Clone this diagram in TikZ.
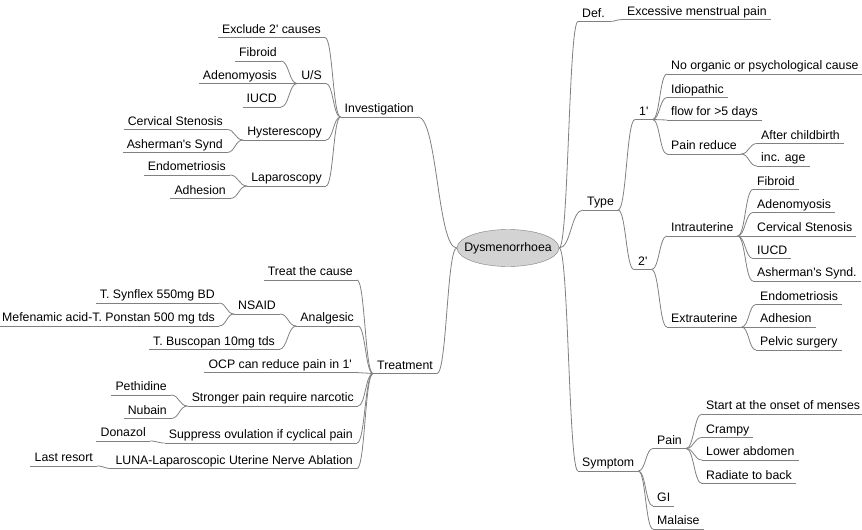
\documentclass[tikz,border=0pt]{standalone}
\usepackage{fontspec}
\setmainfont{Liberation Sans}
\usetikzlibrary{calc,shapes.geometric}
\definecolor{Wire}{HTML}{808080}
\definecolor{HubFill}{HTML}{D3D3D3}
\newcommand\tick{\textquotesingle}
\newcommand\branch[2]{\draw[wire] let \p1=(#1), \p2=(#2) in (\p1) .. controls ({(\x1+\x2)/2},\y1) and ({(\x1+\x2)/2},\y2) .. (\p2);}

\begin{document}
\begin{tikzpicture}[x=1pt,y=-1pt,
  every node/.style={font=\fontsize{12.3}{14}\selectfont},
  wire/.style={draw=Wire,line width=0.8pt},
  hub/.style={ellipse,draw=Wire,fill=HubFill,minimum width=102pt,minimum height=37pt,inner xsep=-10pt,inner ysep=0pt},
  topic/.style={inner xsep=4pt,inner ysep=1.5pt,text height=9pt,text depth=2.5pt,
    append after command={(\tikzlastnode.south west) edge[wire] (\tikzlastnode.south east)}},
  rtopic/.style={topic,anchor=south west},
  ltopic/.style={topic,anchor=south east}
]
\useasboundingbox (0,0) rectangle (862,530);
\node[hub] (ctr) at (508,248) {Dysmenorrhoea};
% right side
\node[rtopic] (def) at (578,21.5) {Def.};
\node[rtopic] (excess) at (623,19.5) {Excessive menstrual pain};
\node[rtopic] (type) at (583,210) {Type};
\node[rtopic] (prim) at (635,119.5) {1\tick};
\node[rtopic] (noorg) at (667,74) {No organic or psychological cause};
\node[rtopic] (idio) at (667,97.5) {Idiopathic};
\node[rtopic] (flow) at (667,120) {flow for >5 days};
\node[rtopic] (painred) at (667,154) {Pain reduce};
\node[rtopic] (afterch) at (757,143.5) {After childbirth};
\node[rtopic] (incage) at (757,166) {inc. age};
\node[rtopic] (sec) at (634,269.5) {2\tick};
\node[rtopic] (intra) at (667,236) {Intrauterine};
\node[rtopic] (fibB) at (753,189.5) {Fibroid};
\node[rtopic] (adenoB) at (753,212.5) {Adenomyosis};
\node[rtopic] (cervB) at (753,236) {Cervical Stenosis};
\node[rtopic] (iucdB) at (753,258.5) {IUCD};
\node[rtopic] (asherB) at (753,281) {Asherman\tick s Synd.};
\node[rtopic] (extra) at (667,327) {Extrauterine};
\node[rtopic] (endoB) at (756,304.5) {Endometriosis};
\node[rtopic] (adhB) at (756,327) {Adhesion};
\node[rtopic] (pelvic) at (756,350) {Pelvic surgery};
\node[rtopic] (symptom) at (578,471) {Symptom};
\node[rtopic] (painS) at (653,448.5) {Pain};
\node[rtopic] (onset) at (702,414) {Start at the onset of menses};
\node[rtopic] (crampy) at (702,437.5) {Crampy};
\node[rtopic] (lowab) at (702,460) {Lower abdomen};
\node[rtopic] (radiate) at (702,483.5) {Radiate to back};
\node[rtopic] (gi) at (653,506) {GI};
\node[rtopic] (malaise) at (653,529) {Malaise};
% left side
\node[ltopic] (invest) at (418,117) {Investigation};
\node[ltopic] (exclude) at (325,37.5) {Exclude 2\tick{} causes};
\node[ltopic] (us) at (326,83.5) {U/S};
\node[ltopic] (fibA) at (281,61) {Fibroid};
\node[ltopic] (adenoA) at (281,83.5) {Adenomyosis};
\node[ltopic] (iucdA) at (281,107) {IUCD};
\node[ltopic] (hyst) at (326,140) {Hysterescopy};
\node[ltopic] (cervA) at (227,129.5) {Cervical Stenosis};
\node[ltopic] (asherA) at (227,152.5) {Asherman\tick s Synd};
\node[ltopic] (lapa) at (326,186) {Laparoscopy};
\node[ltopic] (endoA) at (230,175) {Endometriosis};
\node[ltopic] (adhA) at (230,198.5) {Adhesion};
\node[ltopic] (treat) at (437,373.5) {Treatment};
\node[ltopic] (cause) at (357,280) {Treat the cause};
\node[ltopic] (analg) at (358,326) {Analgesic};
\node[ltopic] (nsaid) at (280,314) {NSAID};
\node[ltopic] (synflex) at (219,303) {T. Synflex 550mg BD};
\node[ltopic] (mefen) at (219,326) {Mefenamic acid-T. Ponstan 500 mg tds};
\node[ltopic] (buscopan) at (279,349.5) {T. Buscopan 10mg tds};
\node[ltopic] (ocp) at (356,372.5) {OCP can reduce pain in 1\tick};
\node[ltopic] (stronger) at (358,406) {Stronger pain require narcotic};
\node[ltopic] (pethidine) at (171,395) {Pethidine};
\node[ltopic] (nubain) at (171,418.5) {Nubain};
\node[ltopic] (suppress) at (357,443) {Suppress ovulation if cyclical pain};
\node[ltopic] (donazol) at (150,441) {Donazol};
\node[ltopic] (luna) at (357,468.5) {LUNA-Laparoscopic Uterine Nerve Ablation};
\node[ltopic] (lastres) at (97,466) {Last resort};
% connectors
\branch{ctr.east}{def.south west}
\branch{ctr.east}{type.south west}
\branch{ctr.east}{symptom.south west}
\branch{def.south east}{excess.south west}
\branch{type.south east}{prim.south west}
\branch{type.south east}{sec.south west}
\branch{prim.south east}{noorg.south west}
\branch{prim.south east}{idio.south west}
\branch{prim.south east}{flow.south west}
\branch{prim.south east}{painred.south west}
\branch{painred.south east}{afterch.south west}
\branch{painred.south east}{incage.south west}
\branch{sec.south east}{intra.south west}
\branch{sec.south east}{extra.south west}
\branch{intra.south east}{fibB.south west}
\branch{intra.south east}{adenoB.south west}
\branch{intra.south east}{cervB.south west}
\branch{intra.south east}{iucdB.south west}
\branch{intra.south east}{asherB.south west}
\branch{extra.south east}{endoB.south west}
\branch{extra.south east}{adhB.south west}
\branch{extra.south east}{pelvic.south west}
\branch{symptom.south east}{painS.south west}
\branch{symptom.south east}{gi.south west}
\branch{symptom.south east}{malaise.south west}
\branch{painS.south east}{onset.south west}
\branch{painS.south east}{crampy.south west}
\branch{painS.south east}{lowab.south west}
\branch{painS.south east}{radiate.south west}
\branch{ctr.west}{invest.south east}
\branch{ctr.west}{treat.south east}
\branch{invest.south west}{exclude.south east}
\branch{invest.south west}{us.south east}
\branch{invest.south west}{hyst.south east}
\branch{invest.south west}{lapa.south east}
\branch{us.south west}{fibA.south east}
\branch{us.south west}{adenoA.south east}
\branch{us.south west}{iucdA.south east}
\branch{hyst.south west}{cervA.south east}
\branch{hyst.south west}{asherA.south east}
\branch{lapa.south west}{endoA.south east}
\branch{lapa.south west}{adhA.south east}
\branch{treat.south west}{cause.south east}
\branch{treat.south west}{analg.south east}
\branch{treat.south west}{ocp.south east}
\branch{treat.south west}{stronger.south east}
\branch{treat.south west}{suppress.south east}
\branch{treat.south west}{luna.south east}
\branch{analg.south west}{nsaid.south east}
\branch{analg.south west}{buscopan.south east}
\branch{nsaid.south west}{synflex.south east}
\branch{nsaid.south west}{mefen.south east}
\branch{stronger.south west}{pethidine.south east}
\branch{stronger.south west}{nubain.south east}
\branch{suppress.south west}{donazol.south east}
\branch{luna.south west}{lastres.south east}
\end{tikzpicture}
\end{document}
